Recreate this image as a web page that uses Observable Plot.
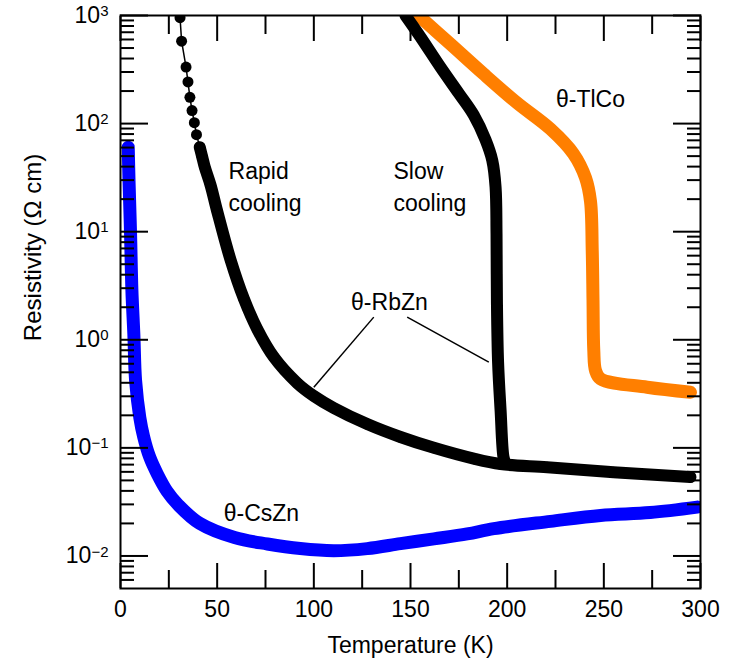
<!DOCTYPE html>
<html><head><meta charset="utf-8">
<script src="https://cdn.jsdelivr.net/npm/d3@7"></script>
<script src="https://cdn.jsdelivr.net/npm/@observablehq/plot@0.6"></script>
<style>body{margin:0;background:#fff}</style>
</head><body><div id="chart"></div>
<script>
// θ-RbZn rapid cooling
const rapidT = [30.8, 31.6, 33.9, 34.9, 35.9, 37.0, 38.2, 39.3, 41.0, 42.3, 43.6, 46.6, 50.0, 56.9, 63.8, 70.7, 79.3, 91.4, 100.0, 110.3, 127.6, 144.8, 162.1, 182.7, 196.6, 220.7, 255.0, 294.8];
const rapidR = [955, 578, 333, 243, 175, 132, 102, 79, 60.5, 48.9, 39.5, 26.9, 15.5, 5.5, 2.40, 1.26, 0.692, 0.398, 0.302, 0.234, 0.166, 0.126, 0.100, 0.0794, 0.0708, 0.0661, 0.0596, 0.0537];
// θ-RbZn slow cooling
const slowT = [147.4, 155.2, 165.5, 175.0, 182.7, 188.8, 192.3, 194.0, 194.5, 194.7, 195.3, 196.6, 198.1, 199.1];
const slowR = [1000, 631, 333, 190.5, 120, 70.8, 45.6, 25.8, 9.57, 2.31, 0.62, 0.222, 0.082, 0.0718];
// θ-TlCo
const tlcoT = [154.1, 170.7, 187.8, 205.2, 222.4, 234.3, 240.5, 243.1, 244.0, 244.4, 244.8, 245.7, 248.3, 272.4, 294.8];
const tlcoR = [1000, 543, 288, 155, 89, 52.5, 31.6, 19.1, 6.7, 2.31, 0.80, 0.52, 0.435, 0.364, 0.327];
// θ-CsZn
const cszT = [4.0, 4.4, 5.2, 5.9, 6.9, 7.8, 10.0, 12.0, 15.0, 19.0, 24.0, 30.0, 41.0, 59.0, 76.0, 93.0, 110.3, 127.6, 144.8, 162.1, 179.3, 193.1, 222.4, 248.3, 274.0, 298.3];
const cszR = [60.5, 29.8, 9.6, 2.86, 1.13, 0.42, 0.19, 0.126, 0.083, 0.0575, 0.0398, 0.0295, 0.0200, 0.0148, 0.0129, 0.0117, 0.0112, 0.0117, 0.0130, 0.0144, 0.0160, 0.0179, 0.0209, 0.0237, 0.0252, 0.0283];

// ticks
const xMajor = [0, 50, 100, 150, 200, 250, 300];
const xMinor = [25, 75, 125, 175, 225, 275];
const yMajor = [1e-2, 1e-1, 1, 10, 100, 1000];
const yMinor = [6e-3, 7e-3, 8e-3, 9e-3].concat(
  yMajor.slice(0, -1).flatMap(d => [2, 3, 4, 5, 6, 7, 8, 9].map(k => k * d)));

// annotations
const annoStartText = ["Rapid\ncooling", "Slow\ncooling"];
const annoStartT = [55.9, 141.2];
const annoStartR = [27.4, 27.4];
const annoMidText = ["θ-TlCo", "θ-RbZn", "θ-CsZn"];
const annoMidT = [243.1, 139.1, 72.9];
const annoMidR = [167, 2.21, 0.0245];
const leadT1 = [131.0, 148.3];
const leadR1 = [1.62, 1.62];
const leadT2 = [100.0, 190.5];
const leadR2 = [0.364, 0.621];

const tbl = (T, R) => T.map((t, i) => ({T: t, R: R[i]}));
const rapid = tbl(rapidT, rapidR);
const slow = tbl(slowT, slowR);
const tlco = tbl(tlcoT, tlcoR);
const csz = tbl(cszT, cszR);
const annoS = annoStartText.map((s, i) => ({s, T: annoStartT[i], R: annoStartR[i]}));
const annoM = annoMidText.map((s, i) => ({s, T: annoMidT[i], R: annoMidR[i]}));
const leads = leadT1.map((t, i) => ({T1: t, R1: leadR1[i], T2: leadT2[i], R2: leadR2[i]}));

const blank = () => "";
const tk = {label: null, strokeWidth: 2, tickFormat: blank};
const thick = {x: "T", y: "R", strokeLinecap: "round", strokeLinejoin: "round", curve: "catmull-rom", clip: true};

const chart = Plot.plot({
  width: 734, height: 666,
  marginLeft: 120, marginRight: 34, marginTop: 15, marginBottom: 78,
  x: {domain: [0, 300]},
  y: {type: "log", domain: [5e-3, 1e3]},
  style: {fontFamily: "'Liberation Sans', Arial, sans-serif", fontSize: "23px", color: "black", background: "white", overflow: "visible"},
  marks: [
    Plot.line(csz, {...thick, stroke: "#0000ff", strokeWidth: 13}),
    Plot.line(tlco, {...thick, stroke: "#ff7f00", strokeWidth: 13}),
    Plot.line(slow, {...thick, stroke: "black", strokeWidth: 12}),
    Plot.line(rapid, {x: "T", y: "R", stroke: "black", strokeWidth: 1.5, clip: true}),
    Plot.line(rapid, {...thick, stroke: "black", strokeWidth: 12, filter: d => d.R <= 62}),
    Plot.dot(rapid, {x: "T", y: "R", r: 5.5, fill: "black", clip: true}),
    Plot.link(leads, {x1: "T1", y1: "R1", x2: "T2", y2: "R2", stroke: "black", strokeWidth: 1.5}),
    Plot.text(annoS, {x: "T", y: "R", text: "s", textAnchor: "start", lineAnchor: "middle", lineHeight: 1.39, fill: "black"}),
    Plot.text(annoM, {x: "T", y: "R", text: "s", textAnchor: "middle", lineAnchor: "middle", fill: "black"}),
    Plot.axisX(xMajor, {...tk, anchor: "bottom", tickSize: -25}),
    Plot.axisX(xMinor, {...tk, anchor: "bottom", tickSize: -18}),
    Plot.axisX(xMajor, {...tk, anchor: "top", tickSize: -25}),
    Plot.axisX(xMinor, {...tk, anchor: "top", tickSize: -18}),
    Plot.axisY(yMajor, {...tk, anchor: "left", tickSize: -28}),
    Plot.axisY(yMinor, {...tk, anchor: "left", tickSize: -14}),
    Plot.axisY(yMajor, {...tk, anchor: "right", tickSize: -28}),
    Plot.axisY(yMinor, {...tk, anchor: "right", tickSize: -14}),
    Plot.axisX(xMajor, {anchor: "bottom", tickSize: 0, tickPadding: 12, label: null, tickFormat: d => String(d)}),
    Plot.axisY(yMajor, {anchor: "left", tickSize: 0, tickPadding: 12, label: null,
      tickFormat: d => "10^" + String(Math.round(Math.log10(d))).replace("-", "\u2212")}),
    Plot.frame({stroke: "black", strokeWidth: 2}),
    Plot.text(["Temperature (K)"], {text: d => d, frameAnchor: "bottom", dy: 57, textAnchor: "middle", lineAnchor: "middle", fill: "black"}),
    Plot.text(["Resistivity (\u03A9 cm)"], {text: d => d, frameAnchor: "top-left", dx: -87, dy: 232, rotate: -90, textAnchor: "middle", lineAnchor: "middle", fontSize: 24, fill: "black"})
  ]
});
document.getElementById("chart").append(chart);

// render 10^n labels with a raised exponent
const ns = "http://www.w3.org/2000/svg";
chart.querySelectorAll('[aria-label="y-axis tick label"] text').forEach(t => {
  const parts = t.textContent.split("^");
  if (parts.length !== 2) return;
  t.textContent = "";
  const a = document.createElementNS(ns, "tspan");
  a.textContent = parts[0];
  const b = document.createElementNS(ns, "tspan");
  b.textContent = parts[1];
  b.setAttribute("font-size", "15");
  b.setAttribute("dy", "-0.45em");
  t.append(a, b);
});
</script>
</body></html>
